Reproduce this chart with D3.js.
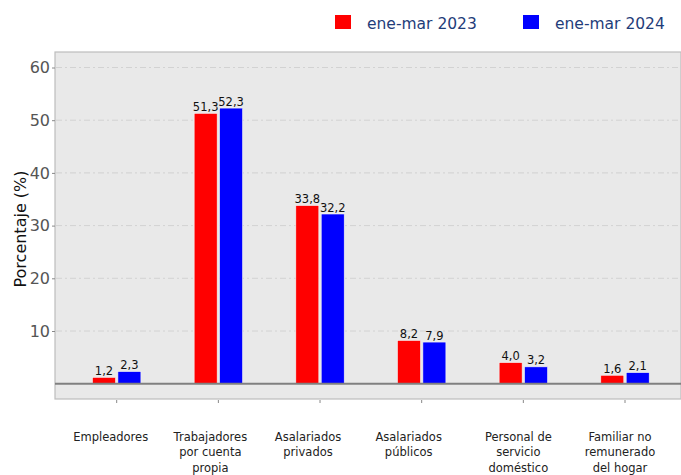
<!DOCTYPE html>
<head>
<meta charset="utf-8">
<script src="https://d3js.org/d3.v7.min.js"></script>
<style>
body { margin: 0; background: #fff; font-family: "DejaVu Sans", sans-serif; }
.grid line { stroke: #d2d2d2; stroke-dasharray: 6,3,2,3; }
.yaxis text { fill: #555; font-size: 16px; }
.xlab { fill: #222; font-size: 11.5px; }
.val { fill: #111; font-size: 11.5px; }
</style>
</head>
<body>
<svg width="681" height="475"></svg>
<script>

var categories = [
  ["Empleadores"],
  ["Trabajadores", "por cuenta", "propia"],
  ["Asalariados", "privados"],
  ["Asalariados", "públicos"],
  ["Personal de", "servicio", "doméstico"],
  ["Familiar no", "remunerado", "del hogar"]
];
var series = ["ene-mar 2023", "ene-mar 2024"];
var v2023 = [1.2, 51.3, 33.8, 8.2, 4.0, 1.6];
var v2024 = [2.3, 52.3, 32.2, 7.9, 3.2, 2.1];
var yTicks = [10, 20, 30, 40, 50, 60];
var colors = ["#ff0000", "#0000ff"];

var svg = d3.select("svg");
var panel = {left: 55, top: 52, right: 681, bottom: 399};

// category index -> center x
var x = d3.scaleLinear().domain([0, 5]).range([116.7, 625]);
var y = d3.scaleLinear().domain([0, 60]).range([383.7, 67.5]);
// labels sit a bit left of their ticks in the original
var labShift = [-6, -8, -12, -13, -5, -5];

svg.append("rect")
  .attr("x", panel.left).attr("y", panel.top)
  .attr("width", panel.right - panel.left).attr("height", panel.bottom - panel.top)
  .attr("fill", "#e9e9e9").attr("stroke", "#bdbdbd").attr("stroke-width", 1.2);

svg.append("g").attr("class", "grid")
  .selectAll("line").data(yTicks).enter().append("line")
  .attr("x1", panel.left + 1).attr("x2", panel.right)
  .attr("y1", function(d) { return y(d); }).attr("y2", function(d) { return y(d); });

var yAxis = svg.append("g").attr("class", "yaxis")
  .attr("transform", "translate(" + panel.left + ",0)")
  .call(d3.axisLeft(y).tickValues(yTicks).tickSize(3).tickPadding(2).tickFormat(d3.format("d")));
yAxis.select(".domain").remove();
yAxis.selectAll(".tick line").attr("stroke", "#888");
yAxis.selectAll("text").attr("font-family", "DejaVu Sans");

svg.append("text")
  .attr("transform", "translate(26,229) rotate(-90)")
  .attr("text-anchor", "middle")
  .attr("font-size", 16).attr("fill", "#111")
  .text("Porcentaje (%)");

var bw = 23, gap = 1.2;

[v2023, v2024].forEach(function(vals, s) {
  var off = s === 0 ? -gap - bw : gap;
  svg.append("g").selectAll("rect").data(vals).enter().append("rect")
    .attr("x", function(d, i) { return x(i) + off; })
    .attr("y", function(d) { return y(d); })
    .attr("width", bw)
    .attr("height", function(d) { return y(0) - y(d); })
    .attr("fill", colors[s])
    .attr("stroke", "#f4f4f4").attr("stroke-width", 0.6);
  svg.append("g").selectAll("text").data(vals).enter().append("text")
    .attr("class", "val")
    .attr("x", function(d, i) { return x(i) + off + bw / 2; })
    .attr("y", function(d) { return y(d) - 2.5; })
    .attr("text-anchor", "middle")
    .text(function(d) { return d3.format(".1f")(d).replace(".", ","); });
});

// zero line
svg.append("line")
  .attr("x1", panel.left).attr("x2", panel.right)
  .attr("y1", y(0)).attr("y2", y(0))
  .attr("stroke", "#808080").attr("stroke-width", 2);

// x ticks and labels
categories.forEach(function(lines, i) {
  svg.append("line")
    .attr("x1", x(i)).attr("x2", x(i))
    .attr("y1", panel.bottom + 1).attr("y2", panel.bottom + 4)
    .attr("stroke", "#888");
  var t = svg.append("text").attr("class", "xlab").attr("text-anchor", "middle");
  lines.forEach(function(l, k) {
    t.append("tspan").attr("x", x(i) + labShift[i]).attr("y", 441 + k * 15.3).text(l);
  });
});

// legend
var leg = svg.append("g");
var legX = [335, 523];
series.forEach(function(s, i) {
  leg.append("rect").attr("x", legX[i]).attr("y", 15).attr("width", 16).attr("height", 14)
    .attr("fill", colors[i]);
  leg.append("text").attr("x", legX[i] + 32).attr("y", 29)
    .attr("font-size", 15.5).attr("fill", "#1f3d7a")
    .text(s);
});

</script>
</body>
